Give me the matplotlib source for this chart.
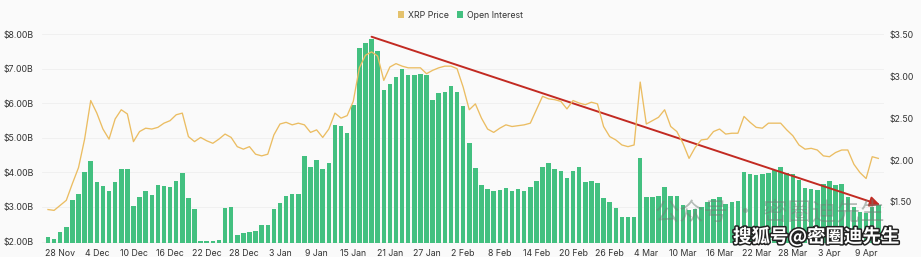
import matplotlib
matplotlib.use("Agg")
import matplotlib.pyplot as plt
import matplotlib.dates as mdates
import matplotlib.patheffects as pe
from matplotlib.patches import Patch
import pandas as pd
import numpy as np

# ---------------- data ----------------
start_date = "2024-11-26"

open_interest_b = [
    2.14, 2.06, 2.27, 2.42, 3.20, 3.38, 4.00, 4.33, 3.72, 3.62,
    3.46, 3.73, 4.10, 4.10, 3.04, 3.30, 3.45, 3.34, 3.63, 3.60,
    3.59, 3.75, 3.99, 3.26, 2.95, 2.02, 2.02, 2.01, 2.03, 2.96,
    3.00, 2.18, 2.24, 2.28, 2.30, 2.49, 2.49, 2.95, 3.11, 3.32,
    3.38, 3.38, 4.48, 4.16, 4.36, 4.11, 4.27, 5.38, 5.34, 5.15,
    5.94, 7.60, 7.74, 7.85, 7.52, 6.40, 6.57, 6.76, 6.99, 6.82,
    6.83, 6.86, 6.81, 6.10, 6.31, 6.32, 6.51, 6.34, 5.91, 4.86,
    4.13, 3.65, 3.53, 3.45, 3.49, 3.54, 3.46, 3.53, 3.45, 3.57,
    3.74, 4.17, 4.27, 4.09, 4.03, 3.84, 4.05, 4.15, 3.73, 3.75,
    3.70, 3.25, 3.14, 2.98, 2.72, 2.72, 2.72, 4.43, 3.30, 3.28,
    3.33, 3.59, 3.32, 3.32, 3.06, 2.91, 2.93, 2.99, 3.14, 3.22,
    3.30, 3.10, 3.13, 3.18, 4.01, 3.95, 3.93, 3.95, 3.99, 4.08,
    4.17, 3.99, 3.95, 3.77, 3.54, 3.51, 3.49, 3.66, 3.75, 3.63,
    3.67, 3.28, 3.00, 2.86, 2.83, 3.01, 3.07,
]

xrp_price = [
    1.41, 1.40, 1.46, 1.52, 1.72, 1.91, 2.25, 2.71, 2.56, 2.37,
    2.25, 2.49, 2.60, 2.55, 2.22, 2.34, 2.38, 2.37, 2.39, 2.44,
    2.47, 2.54, 2.56, 2.28, 2.22, 2.27, 2.23, 2.20, 2.25, 2.31,
    2.27, 2.16, 2.13, 2.16, 2.07, 2.05, 2.07, 2.30, 2.43, 2.45,
    2.42, 2.44, 2.42, 2.33, 2.36, 2.27, 2.37, 2.56, 2.50, 2.53,
    2.70, 3.10, 3.25, 3.29, 3.24, 2.95, 3.11, 3.15, 3.12, 3.10,
    3.10, 3.10, 3.03, 3.07, 3.10, 3.12, 3.12, 3.09, 2.87, 2.60,
    2.67, 2.50, 2.37, 2.33, 2.38, 2.42, 2.40, 2.41, 2.42, 2.44,
    2.60, 2.76, 2.73, 2.72, 2.70, 2.61, 2.71, 2.68, 2.66, 2.69,
    2.67, 2.40, 2.28, 2.24, 2.18, 2.16, 2.18, 2.93, 2.43, 2.47,
    2.51, 2.60, 2.40, 2.34, 2.20, 2.02, 2.15, 2.24, 2.25, 2.34,
    2.37, 2.31, 2.32, 2.32, 2.52, 2.45, 2.39, 2.38, 2.44, 2.44,
    2.44, 2.36, 2.29, 2.18, 2.13, 2.14, 2.12, 2.05, 2.04, 2.09,
    2.12, 2.12, 1.95, 1.85, 1.78, 2.04, 2.02,
]

tick_dates = ["2024-11-28", "2024-12-04", "2024-12-10", "2024-12-16", "2024-12-22",
              "2024-12-28", "2025-01-03", "2025-01-09", "2025-01-15", "2025-01-21",
              "2025-01-27", "2025-02-02", "2025-02-08", "2025-02-14", "2025-02-20",
              "2025-02-26", "2025-03-04", "2025-03-10", "2025-03-16", "2025-03-22",
              "2025-03-28", "2025-04-03", "2025-04-09"]
tick_labels = ["28 Nov", "4 Dec", "10 Dec", "16 Dec", "22 Dec", "28 Dec", "3 Jan",
               "9 Jan", "15 Jan", "21 Jan", "27 Jan", "2 Feb", "8 Feb", "14 Feb",
               "20 Feb", "26 Feb", "4 Mar", "10 Mar", "16 Mar", "22 Mar", "28 Mar",
               "3 Apr", "9 Apr"]

left_ticks = [2, 3, 4, 5, 6, 7, 8]
left_labels = ["$2.00B", "$3.00B", "$4.00B", "$5.00B", "$6.00B", "$7.00B", "$8.00B"]
right_ticks = [1.5, 2.0, 2.5, 3.0, 3.5]
right_labels = ["$1.50", "$2.00", "$2.50", "$3.00", "$3.50"]

# trend arrow (OI units): from the peak bar to just past the last bar
arrow_end_value = 3.06

# ---------------- styling ----------------
BAR_C = "#43c080"
LINE_C = "#ebbd62"
LEG_PRICE_C = "#e4c26d"
TXT_C = "#333333"
BG = "#fafafa"

plt.rcParams["font.family"] = ["Inter", "DejaVu Sans"]

dates = pd.date_range(start_date, periods=len(open_interest_b), freq="D")
x = mdates.date2num(dates)

fig = plt.figure(figsize=(9.21, 2.57), dpi=100, facecolor=BG)
ax = fig.add_axes([42 / 921, 14 / 257, 842 / 921, 213 / 257])
ax.set_facecolor(BG)

ax.bar(x, open_interest_b, width=0.74, color=BAR_C, zorder=2)
ax.set_ylim(1.957, 8.125)
ax.set_xlim(x[0] - 0.98, x[-1] + 0.93)
ax.set_yticks(left_ticks)
ax.set_yticklabels(left_labels)
ax.grid(axis="y", color="#efefef", linewidth=0.6, zorder=0)
ax.set_axisbelow(True)

ax.set_xticks(mdates.date2num(pd.to_datetime(tick_dates)))
ax.set_xticklabels(tick_labels)

for s in ax.spines.values():
    s.set_visible(False)
ax.tick_params(axis="both", length=0, labelsize=6.3, colors=TXT_C)
ax.tick_params(axis="x", pad=4)
ax.tick_params(axis="y", pad=6)

ax2 = ax.twinx()
ax2.plot(x, xrp_price, color=LINE_C, linewidth=0.95, zorder=3,
         solid_joinstyle="round")
ax2.set_ylim(1.011, 3.551)
ax2.set_yticks(right_ticks)
ax2.set_yticklabels(right_labels)
for s in ax2.spines.values():
    s.set_visible(False)
ax2.tick_params(axis="y", length=0, labelsize=6.3, colors=TXT_C, pad=4)

# trend arrow
peak_i = int(np.argmax(open_interest_b))
ax.annotate("", xy=(x[-1] + 0.3, arrow_end_value),
            xytext=(x[peak_i], open_interest_b[peak_i] + 0.08),
            arrowprops=dict(arrowstyle="-|>,head_length=0.6,head_width=0.3",
                            color="#c22a22", lw=1.4, shrinkA=0, shrinkB=0),
            zorder=5)

# legend
handles = [Patch(facecolor=LEG_PRICE_C, edgecolor="none", label="XRP Price"),
           Patch(facecolor=BAR_C, edgecolor="none", label="Open Interest")]
fig.legend(handles=handles, loc="center", bbox_to_anchor=(0.5, 1 - 15 / 257),
           ncol=2, frameon=False, fontsize=6.3, handlelength=0.7, handleheight=0.7,
           handletextpad=0.4, columnspacing=1.0, labelcolor=TXT_C)

# watermarks
fig.text(655 / 921, 1 - 213 / 257, "公众号 · 密圈迪先生", fontsize=17.5,
         family=["Noto Sans CJK SC", "DejaVu Sans"], color="#6f7f76", alpha=0.5,
         va="center", ha="left", zorder=10)
fig.text(733 / 921, 1 - 237 / 257, "搜狐号@密圈迪先生", fontsize=13.3,
         family=["Noto Sans CJK SC", "DejaVu Sans"], color="white", fontweight="bold",
         va="center", ha="left", zorder=11,
         path_effects=[pe.withStroke(linewidth=2.2, foreground="#222222")])

fig.savefig("out.png", dpi=100, facecolor=BG)
